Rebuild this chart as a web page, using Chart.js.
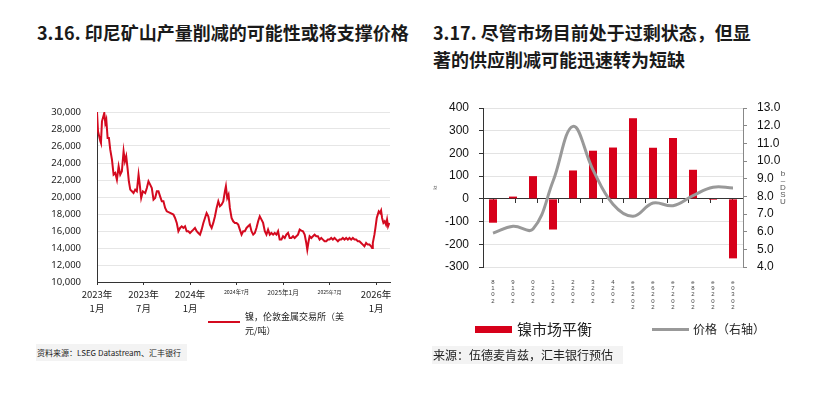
<!DOCTYPE html>
<html lang="zh-CN">
<head>
<meta charset="utf-8">
<title>镍市场</title>
<script src="https://cdn.jsdelivr.net/npm/chart.js@4.4.1/dist/chart.umd.min.js"></script>
<style>
  html, body { margin: 0; padding: 0; background: #fff; }
  body {
    width: 813px; height: 393px; position: relative; overflow: hidden;
    font-family: "Noto Sans CJK SC", "Noto Sans", sans-serif; color: #1a1a1a;
  }
  .title { position: absolute; font-weight: 700; font-size: 18px; line-height: 27px; white-space: nowrap; }
  .box { position: absolute; }
  .src { position: absolute; background: #f3f3f3; white-space: nowrap; color: #222; }
  .legend-text { position: absolute; white-space: nowrap; color: #222; }
</style>
</head>
<body>
  <div class="title" style="left:37px; top:19px;">3.16. 印尼矿山产量削减的可能性或将支撑价格</div>
  <div class="title" style="left:433px; top:19px;">3.17. 尽管市场目前处于过剩状态，但显<br>著的供应削减可能迅速转为短缺</div>

  <div class="box" style="left:20px; top:100px; width:380px; height:222px;"><canvas id="chartNickel"></canvas></div>
  <div class="box" style="left:425px; top:96px; width:380px; height:222px;"><canvas id="chartBalance"></canvas></div>

  <!-- left legend -->
  <div class="box" style="left:208px; top:321px; width:32px; height:2px; background:#d40a1f;"></div>
  <div class="legend-text" style="left:245px; top:310px; font-size:9px; line-height:14px;">镍，伦敦金属交易所（美<br>元/吨）</div>
  <div class="src" style="left:36px; top:344px; width:150px; height:17px; font-size:8px; line-height:17px; padding-left:1px;">资料来源：LSEG Datastream、汇丰银行</div>

  <!-- right legend -->
  <div class="box" style="left:475px; top:326px; width:37px; height:7px; background:#d7001a;"></div>
  <div class="legend-text" style="left:517px; top:319px; font-size:15px; line-height:20px;">镍市场平衡</div>
  <div class="box" style="left:652px; top:328px; width:37px; height:3px; background:#999;"></div>
  <div class="legend-text" style="left:693px; top:321px; font-size:12px; line-height:16px;">价格（右轴）</div>
  <div class="src" style="left:432px; top:346px; width:190px; height:18px; font-size:12px; line-height:18px; padding-left:1px;">来源：伍德麦肯兹，汇丰银行预估</div>

  <!-- right axis unit, stacked characters -->
  <div class="legend-text" style="left:779px; top:170px; font-size:8px; line-height:7px; text-align:center; width:8px; color:#555; font-family:'Liberation Sans', Arial, sans-serif;">b<br>–<br>D<br>S<br>U</div>

<script>
  // LME nickel, USD/t; x = months since Jan 2023
  const nickelMonths = [
    0, 0.13, 0.43, 0.51, 0.64, 0.94, 1.07, 1.2, 1.37, 1.54, 1.71, 1.93, 2.14, 2.36, 2.57, 2.79,
    3.0, 3.21, 3.43, 3.6, 3.77, 3.94, 4.11, 4.29, 4.5, 4.71, 4.93, 5.14, 5.36, 5.49, 5.7, 5.92,
    6.22, 6.43, 6.64, 6.86, 7.07, 7.29, 7.5, 7.72, 7.93, 8.14, 8.36, 8.57, 8.79, 9.0, 9.43, 9.86,
    10.07, 10.29, 10.5, 10.72, 10.93, 11.14, 11.36, 11.57, 11.79, 12.0, 12.43, 12.64, 12.86, 13.07,
    13.29, 13.5, 13.72, 13.93, 14.14, 14.36, 14.57, 14.79, 15.0, 15.22, 15.43, 15.65, 15.86, 16.07,
    16.29, 16.5, 16.63, 16.8, 16.97, 17.14, 17.36, 17.57, 17.79, 18.0, 18.22, 18.43, 18.65, 18.86,
    19.07, 19.29, 19.5, 19.72, 19.93, 20.15, 20.36, 20.57, 20.79, 21.0, 21.22, 21.43, 21.65, 21.86,
    22.07, 22.29, 22.5, 22.72, 22.93, 23.15, 23.36, 23.57, 23.79, 24.0, 24.22, 24.43, 24.65, 24.86,
    25.07, 25.29, 25.5, 25.72, 25.93, 26.15, 26.36, 26.57, 26.79, 27.0, 27.13, 27.3, 27.43, 27.65,
    27.86, 28.07, 28.29, 28.5, 28.72, 28.93, 29.15, 29.36, 29.58, 29.79, 30.0, 30.22, 30.43, 30.65,
    30.86, 31.08, 31.29, 31.5, 31.72, 31.93, 32.15, 32.36, 32.58, 32.79, 33.0, 33.22, 33.43, 33.65,
    33.86, 34.08, 34.29, 34.5, 34.72, 34.93, 35.15, 35.36, 35.49, 35.58, 35.79, 35.92, 36.09, 36.22,
    36.35, 36.52, 36.65, 36.78, 36.95, 37.12, 37.29, 37.42, 37.55, 37.72,
  ];
  const nickelPrice = [
    30000, 27730, 26550, 26350, 28900, 29880, 28700, 29100, 26940, 26940, 25570, 24390, 22630, 22830, 22040, 23610,
    22630, 23020, 25370, 24200, 24790, 23410, 21850, 20870, 20670, 20470, 20870, 20670, 22630, 21650, 19890, 20670,
    20470, 21060, 21850, 21450, 21060, 19690, 19890, 20670, 20670, 20080, 19490, 19490, 18710, 18320, 18120, 17930,
    17530, 16950, 15970, 16360, 16550, 16360, 16550, 15970, 15970, 15770, 16160, 16360, 15970, 15770,
    15570, 16160, 16950, 17530, 18120, 17730, 16750, 16360, 16950, 17730, 18710, 19490, 18910, 19100,
    19490, 20670, 21260, 19890, 20280, 18710, 17530, 17140, 16950, 16950, 16750, 16160, 15570, 15970,
    15970, 16360, 16550, 16750, 15970, 15570, 15770, 16360, 17140, 17730, 17340, 16950, 15970, 15570,
    16160, 15570, 15770, 15570, 15770, 15570, 15970, 14990, 14990, 15380, 15180, 15570, 15770, 15180,
    15180, 15380, 15180, 15380, 15570, 16160, 16040, 15970, 15570, 14590, 13810, 14790, 15380, 15180,
    15380, 15570, 15380, 15380, 14990, 15180, 14990, 14790, 14790, 14990, 14990, 15180, 14990, 15180,
    14990, 14790, 14990, 14990, 15180, 14990, 15180, 14990, 15180, 14990, 15180, 14990, 14990, 14790,
    14790, 14590, 14400, 14200, 14590, 14400, 14400, 14200, 14000, 14590, 15570, 16360, 17530, 17930,
    18320, 18120, 18400, 17530, 16950, 17140, 16750, 17340, 16550, 16950,
  ];
  const nickelTickMonths = [0, 6, 12, 18, 24, 30, 36];
  const nickelTickLabels = [
    ['2023年', '1月'], ['2023年', '7月'], ['2024年', '1月'], '2024年7月', '2025年1月', '2025年7月', ['2026年', '1月'],
  ];
  const nickelTickFontPx = [9.5, 9.5, 9.5, 5.3, 6.6, 5, 9.5];

  // market balance (kt) and price (USD/lb)
  const balanceYears = ['2018', '2019', '2020', '2021', '2022', '2023', '2024', '2025e', '2026e', '2027e', '2028e', '2029e', '2030e'];
  const balanceKt = [-105, 10, 100, -135, 125, 212, 226, 355, 225, 268, 128, -5, -262];
  const priceUsdLb = [5.92, 6.3, 6.15, 8.85, 11.96, 9.5, 7.55, 6.87, 7.62, 7.47, 8.04, 8.51, 8.47];

  const RED = '#d40a1f';
  const sans = "'Noto Sans', 'Noto Sans CJK SC', sans-serif";
  const arial = "'Liberation Sans', Arial, sans-serif";

  // the tick padding otherwise gets added above the top label
  const fixVertical = (width) => (axis) => {
    axis.width = width;
    axis.paddingTop = 0;
    axis.paddingBottom = 0;
  };

  new Chart(document.getElementById('chartNickel'), {
    type: 'line',
    data: {
      datasets: [{
        data: nickelMonths.map((m, i) => ({ x: m, y: nickelPrice[i] })),
        borderColor: RED,
        borderWidth: 2,
        pointRadius: 0,
        tension: 0,
      }],
    },
    options: {
      responsive: true,
      maintainAspectRatio: false,
      animation: false,
      layout: { padding: { top: 12, right: 10, left: 0, bottom: 0 } },
      plugins: { legend: { display: false }, tooltip: { enabled: false } },
      scales: {
        x: {
          type: 'linear',
          min: 0,
          max: 37.8,
          afterBuildTicks: (axis) => { axis.ticks = nickelTickMonths.map((v) => ({ value: v })); },
          afterFit: (axis) => { axis.height = 40; },
          grid: { display: true, drawOnChartArea: false, drawTicks: true, tickLength: 3, color: '#333' },
          border: { color: '#333', width: 1 },
          ticks: {
            maxRotation: 0,
            autoSkip: false,
            padding: 3,
            color: '#222',
            font: (ctx) => ({ family: "'Noto Sans CJK SC', sans-serif", size: nickelTickFontPx[ctx.index] || 9.5, lineHeight: 1.45 }),
            callback: (value, index) => nickelTickLabels[index],
          },
        },
        y: {
          min: 10000,
          max: 30000,
          afterFit: fixVertical(77),
          grid: { color: '#e6e6e6', drawTicks: false },
          border: { color: '#333', width: 1 },
          ticks: {
            stepSize: 2000,
            autoSkip: false,
            padding: 16,
            color: '#222',
            font: { family: sans, size: 9.5 },
            callback: (value) => value.toLocaleString('en-US'),
          },
        },
      },
    },
  });

  new Chart(document.getElementById('chartBalance'), {
    data: {
      labels: balanceYears.map((y) => y.split('').reverse()),
      datasets: [
        {
          type: 'line',
          data: priceUsdLb,
          yAxisID: 'y1',
          borderColor: '#999',
          borderWidth: 3,
          pointRadius: 0,
          tension: 0.4,
          order: 1,
        },
        {
          type: 'bar',
          data: balanceKt,
          yAxisID: 'y',
          backgroundColor: '#d7001a',
          barPercentage: 0.4,
          categoryPercentage: 1,
          order: 2,
        },
      ],
    },
    options: {
      responsive: true,
      maintainAspectRatio: false,
      animation: false,
      layout: { padding: { top: 12, right: 0, left: 0, bottom: 0 } },
      plugins: { legend: { display: false }, tooltip: { enabled: false } },
      scales: {
        x: {
          afterFit: (axis) => { axis.height = 51; },
          grid: { display: false, drawTicks: false },
          border: { display: false },
          ticks: {
            maxRotation: 0,
            autoSkip: false,
            padding: 12,
            color: '#444',
            font: { family: arial, size: 6, lineHeight: 1.05 },
          },
        },
        xz: {
          type: 'category',
          position: { y: 0 },
          grid: { display: true, offset: true, drawOnChartArea: false, drawTicks: true, tickLength: 4, color: '#333' },
          border: { display: true, color: '#333', width: 1 },
          ticks: { display: false },
        },
        y: {
          position: 'left',
          min: -300,
          max: 400,
          afterFit: fixVertical(58),
          title: { display: true, text: 'kt', font: { family: arial, size: 5 }, color: '#666', padding: { top: 8, bottom: 0 } },
          grid: {
            color: (ctx) => (ctx.tick && ctx.tick.value === 0 ? '#333' : '#e3e3e3'),
            tickColor: '#333',
            tickLength: 4,
          },
          border: { color: '#333', width: 1 },
          ticks: { stepSize: 100, autoSkip: false, padding: 10, color: '#111', font: { family: arial, size: 12 } },
        },
        y1: {
          position: 'right',
          min: 4,
          max: 13,
          afterFit: fixVertical(62),
          grid: { drawOnChartArea: false, tickColor: '#888', tickLength: 4 },
          border: { color: '#888', width: 1 },
          ticks: {
            stepSize: 1,
            autoSkip: false,
            padding: 10,
            color: '#111',
            font: { family: arial, size: 12 },
            callback: (value) => value.toFixed(1),
          },
        },
      },
    },
  });
</script>
</body>
</html>
